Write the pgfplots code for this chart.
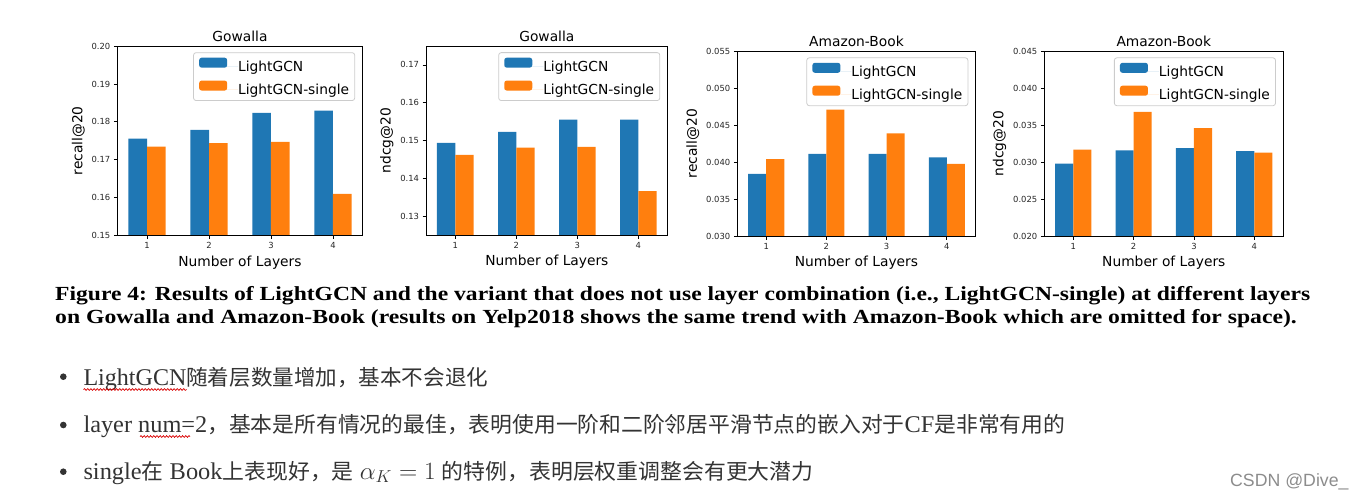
\documentclass[border=0pt]{standalone}
\usepackage{pgfplots}
\pgfplotsset{compat=1.18}
\usepackage{fontspec}
\setmainfont{Liberation Serif}
\newfontfamily\dejavu{DejaVu Sans}
\newfontfamily\cjkfont{Noto Sans CJK SC}
\newfontfamily\arialfont{Liberation Sans}
\usetikzlibrary{decorations.pathmorphing}
\definecolor{tabblue}{HTML}{1F77B4}
\definecolor{taborange}{HTML}{FF7F0E}
\newcommand{\lat}{\rmfamily\fontsize{24}{28}\selectfont}
\newcommand{\zh}{\cjkfont\fontsize{21.5}{26}\selectfont}

\pgfplotsset{
  panel/.style={
    scale only axis, anchor=south west,
    xmin=0.52, xmax=4.48,
    xtick={1,2,3,4}, xticklabels={1,2,3,4},
    scaled y ticks=false,
    tick align=outside,
    xtick pos=bottom, ytick pos=left,
    major tick length=3.5pt,
    axis line style={line width=0.8pt, black},
    every tick/.style={line width=0.8pt, black},
    ticklabel style={font=\dejavu\fontsize{8.4}{10}\selectfont, text=black!85},
    /pgf/number format/assume math mode=true,
    /pgf/number format/fixed, /pgf/number format/fixed zerofill,
    label style={font=\dejavu\fontsize{13.8}{16}\selectfont},
    title style={font=\dejavu\fontsize{13.8}{16}\selectfont, yshift=-5pt},
    xlabel={Number of Layers},
    axis on top,
    legend cell align=left,
    legend image code/.code={%
      \fill[##1,/tikz/.cd,bar width=3pt,bar shift=0pt,fill opacity=1] (0pt,-1pt) rectangle (28pt,9pt);
      \path (0pt,0pt) -- (39pt,0pt);},
    legend style={
      at={(rel axis cs:0.969,0.967)}, anchor=north east,
      draw=black!20, line width=0.8pt, rounded corners=2.5pt,
      fill=white, fill opacity=0.8, text opacity=1,
      font=\dejavu\fontsize{13.8}{16}\selectfont,
      inner xsep=5.6pt, inner ysep=5pt,
      column sep=0pt, row sep=7.9pt,
      nodes={inner sep=0pt},
    },
  },
  bl/.style={ybar, bar width=0.3, bar shift=0pt, fill=tabblue, draw=none},
  or/.style={ybar, bar width=0.3, bar shift=0pt, fill=taborange, draw=none},
}

\begin{document}
\begin{tikzpicture}
\path[use as bounding box] (0pt,0pt) rectangle (1365pt,-499pt);

% Panel 1
\begin{axis}[panel, at={(117.3pt,-235.7pt)}, width=245.4pt, height=189.7pt,
  ymin=0.15, ymax=0.20, ytick={0.15,0.16,0.17,0.18,0.19,0.20},
  /pgf/number format/precision=2,
  title={Gowalla}, ylabel={recall@20}]
\addplot[bl] coordinates {(0.85,0.1756) (1.85,0.1779) (2.85,0.1824) (3.85,0.1830)};
\addplot[or] coordinates {(1.15,0.1735) (2.15,0.1744) (3.15,0.1747) (4.15,0.1610)};
\legend{LightGCN,LightGCN-single}
\end{axis}

% Panel 2
\begin{axis}[panel, at={(426pt,-235pt)}, width=241.7pt, height=189pt,
  ymin=0.125, ymax=0.175, ytick={0.13,0.14,0.15,0.16,0.17},
  /pgf/number format/precision=2,
  title={Gowalla}, ylabel={ndcg@20}]
\addplot[bl] coordinates {(0.85,0.1494) (1.85,0.1523) (2.85,0.1555) (3.85,0.1555)};
\addplot[or] coordinates {(1.15,0.1462) (2.15,0.1481) (3.15,0.1483) (4.15,0.1366)};
\legend{LightGCN,LightGCN-single}
\end{axis}

% Panel 3
\begin{axis}[panel, at={(737.3pt,-236pt)}, width=238.4pt, height=184.7pt,
  ymin=0.030, ymax=0.055, ytick={0.030,0.035,0.040,0.045,0.050,0.055},
  /pgf/number format/precision=3,
  title={Amazon-Book}, ylabel={recall@20}]
\addplot[bl] coordinates {(0.85,0.0384) (1.85,0.0411) (2.85,0.0411) (3.85,0.04065)};
\addplot[or] coordinates {(1.15,0.0404) (2.15,0.0471) (3.15,0.0439) (4.15,0.03975)};
\legend{LightGCN,LightGCN-single}
\end{axis}

% Panel 4
\begin{axis}[panel, at={(1044.3pt,-236pt)}, width=239pt, height=184.7pt,
  ymin=0.020, ymax=0.045, ytick={0.020,0.025,0.030,0.035,0.040,0.045},
  /pgf/number format/precision=3,
  title={Amazon-Book}, ylabel={ndcg@20}]
\addplot[bl] coordinates {(0.85,0.0298) (1.85,0.0316) (2.85,0.0319) (3.85,0.0315)};
\addplot[or] coordinates {(1.15,0.0317) (2.15,0.0368) (3.15,0.0346) (4.15,0.0313)};
\legend{LightGCN,LightGCN-single}
\end{axis}

% Caption
\node[anchor=base west, inner sep=0pt] at (55pt,-300pt)
  {\resizebox{1255pt}{\height}{\fontsize{20}{24}\selectfont\bfseries Figure 4: Results of LightGCN and the variant that does not use layer combination (i.e., LightGCN-single) at different layers}};
\node[anchor=base west, inner sep=0pt] at (55pt,-323.3pt)
  {\resizebox{1241.7pt}{\height}{\fontsize{20}{24}\selectfont\bfseries on Gowalla and Amazon-Book (results on Yelp2018 shows the same trend with Amazon-Book which are omitted for space).}};

% Bullets
\fill[black!80] (63.3pt,-376.7pt) circle (3.3pt);
\fill[black!80] (63.3pt,-425pt) circle (3.3pt);
\fill[black!80] (63.3pt,-471.7pt) circle (3.3pt);
\node[anchor=base west, inner sep=0pt, text=black!80] at (83.3pt,-385.7pt)
  {\resizebox{404.7pt}{\height}{{\lat LightGCN}{\zh 随着层数量增加，基本不会退化}}};
\node[anchor=base west, inner sep=0pt, text=black!80] at (83.3pt,-432.3pt)
  {\resizebox{981.7pt}{\height}{{\lat layer num=2}{\zh ，基本是所有情况的最佳，表明使用一阶和二阶邻居平滑节点的嵌入对于}{\lat CF}{\zh 是非常有用的}}};
\node[anchor=base west, inner sep=0pt, text=black!80] at (83.3pt,-479pt)
  {\resizebox{730pt}{\height}{{\lat single}{\zh 在}{\lat\ Book}{\zh 上表现好，是}{\lat\ $\alpha_K = 1$\ }{\zh 的特例，表明层权重调整会有更大潜力}}};
\draw[red!85!black, line width=0.7pt, decorate, decoration={snake, amplitude=0.9pt, segment length=3.2pt}] (83.5pt,-389.5pt) -- (186.5pt,-389.5pt);
\draw[red!85!black, line width=0.7pt, decorate, decoration={snake, amplitude=0.9pt, segment length=3.2pt}] (140pt,-436.5pt) -- (190pt,-436.5pt);

% Watermark
\node[anchor=base west, inner sep=0pt, text=black!45] at (1230pt,-486pt)
  {\arialfont\fontsize{17.7}{20}\selectfont CSDN @Dive\_};
\end{tikzpicture}
\end{document}
